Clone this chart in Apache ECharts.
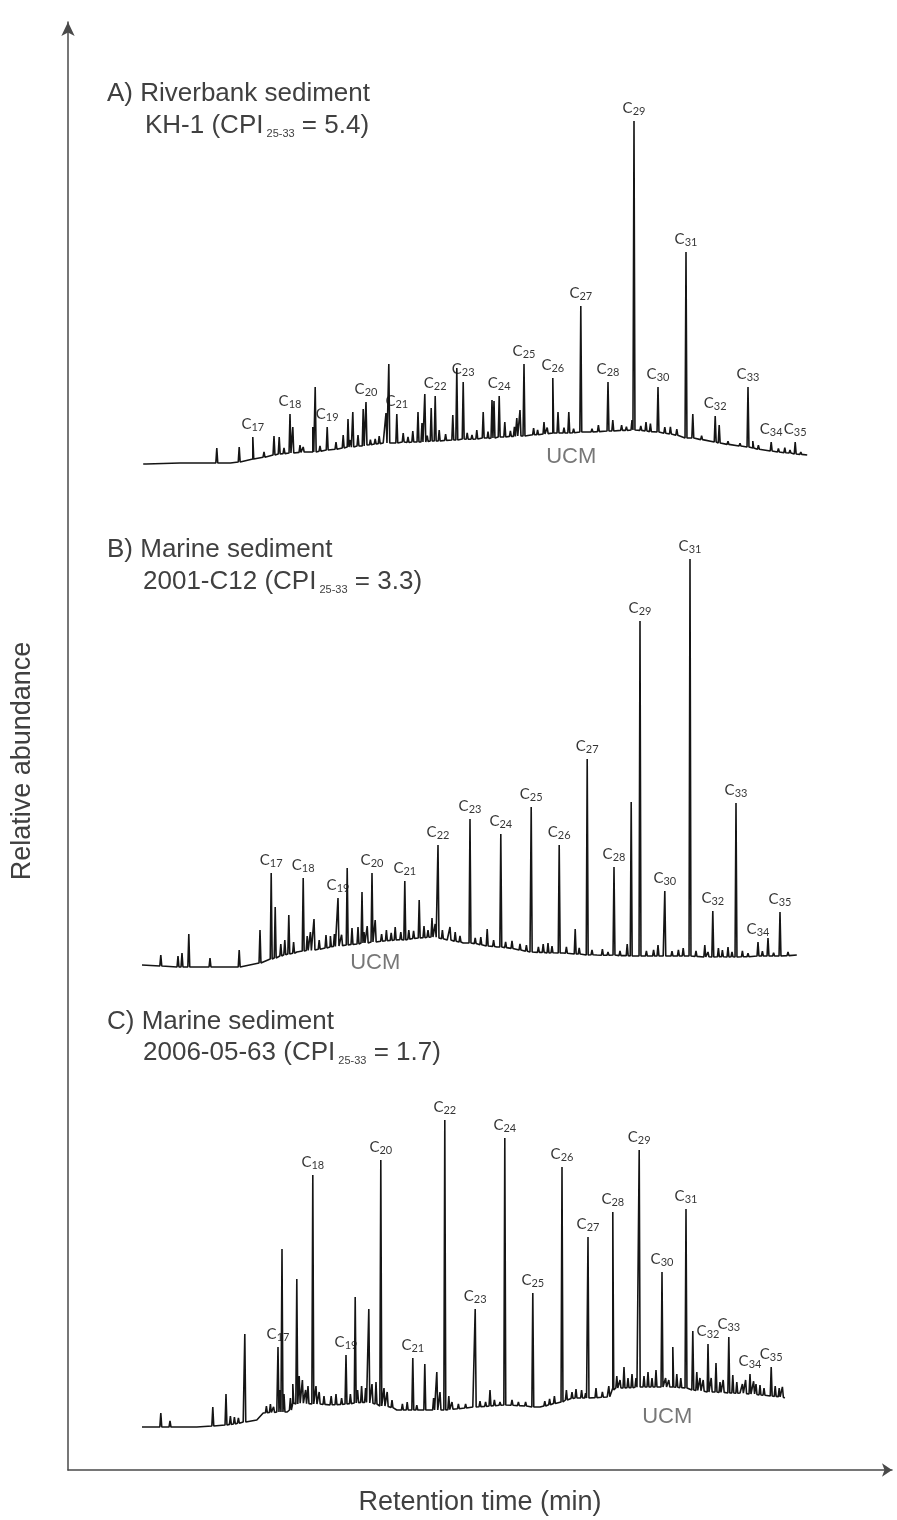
<!DOCTYPE html>
<html>
<head>
<meta charset="utf-8">
<title>n-alkane chromatograms</title>
<script src="https://cdn.jsdelivr.net/npm/echarts@6/dist/echarts.min.js"></script>
<style>
  html, body { margin: 0; padding: 0; background: #fff; }
  #chart { width: 897px; height: 1520px; }
</style>
</head>
<body>
<div id="chart"></div>
<script>
// retention time axis runs 0..100 (arbitrary units), abundance in arbitrary units per panel

// A) Riverbank sediment KH-1 : UCM hump points [time, abundance]
const ucmA = [
  [5.4, 1.5], [10.0, 1.75], [16.3, 1.75], [19.1, 2.75], [22.5, 4], [26.6, 4.5],
  [30.9, 5.75], [35.4, 6.75], [40, 7], [48.4, 8], [56.6, 9.25], [60.9, 9.5],
  [66.6, 10], [69.1, 9.5], [73.4, 8], [77.5, 6.75], [81.6, 5.5], [85.9, 4.25], [88.4, 3.75]
]
// resolved peaks [time, base, top, carbon number]
const peaksA = [
  [5.9, 1.5, 2.0], [10.0, 1.75, 2.25], [14.6, 1.75, 5.5], [17.4, 2.0, 5.75],
  [19.1, 2.75, 8.25, 17], [21.75, 3.75, 8.5], [22.4, 4, 8.25],
  [23.75, 4.25, 14, 18], [24.1, 4.25, 10.75], [25.4, 4.5, 5.75],
  [26.6, 4.5, 10.75], [26.9, 4.5, 20.75], [28.4, 5, 10.75, 19],
  [30.4, 5.5, 8.75], [31.0, 5.75, 12.75], [31.6, 5.75, 14.5], [32.25, 6, 8.75],
  [32.9, 6, 15.25], [33.25, 6.25, 17, 20], [34.4, 6.5, 7.75],
  [35.75, 6.75, 14.25], [36.1, 6.75, 26.5], [37.1, 6.75, 14, 21],
  [37.9, 7, 9.25], [39.1, 7, 9.75], [39.75, 7, 14.5], [40.25, 7, 11.75],
  [40.6, 7, 19], [41.4, 7.25, 15.5], [41.9, 7.25, 18.5, 22], [42.4, 7.25, 10],
  [44.1, 7.5, 13.75], [44.6, 7.5, 25.5], [45.4, 7.75, 22, 23],
  [47.1, 7.75, 10], [47.9, 8, 14.5], [49.0, 8, 17.5], [49.25, 8, 17.25],
  [49.9, 8.25, 18.5, 24], [50.6, 8.25, 12], [52.1, 8.5, 13], [52.5, 8.5, 15],
  [53.0, 8.5, 26.5, 25], [55.5, 9, 12], [56.6, 9.25, 23, 26],
  [57.25, 9.25, 14.5], [58.6, 9.25, 14.5], [60.1, 9.5, 41, 27],
  [63.5, 9.75, 22, 28], [64.1, 9.75, 12.5], [66.5, 10, 12.5],
  [66.75, 10, 87.25, 29], [68.25, 9.75, 12], [69.75, 9.5, 20.75, 30],
  [73.25, 8, 54.5, 31], [74.1, 8, 14], [76.9, 7, 13.5, 32], [77.4, 6.75, 11.25],
  [81.0, 5.75, 20.75, 33], [81.6, 5.5, 7.25], [83.9, 4.75, 7, 34],
  [86.25, 4.25, 5], [86.9, 4, 7, 35]
]
// baseline noise spikes [time, base, top]
const noiseA = [
  [20.5, 3.2, 4.5], [23.0, 4.1, 5.5], [25.0, 4.4, 6.2], [27.5, 4.7, 6.0], [29.5, 5.2, 7.0],
  [31.3, 5.7, 7.5], [33.8, 6.3, 7.6], [34.9, 6.6, 8.5], [38.5, 6.9, 8.3], [40.9, 7.1, 8.6],
  [43.2, 7.4, 9.0], [45.9, 7.7, 9.3], [46.5, 7.7, 8.8], [48.5, 7.9, 9.6], [51.3, 8.4, 9.8],
  [51.8, 8.4, 10.8], [54.2, 8.8, 10.5], [54.7, 8.8, 10.0], [55.9, 9.1, 10.6], [58.0, 9.25, 10.6],
  [59.2, 9.3, 10.3], [61.5, 9.5, 10.3], [62.3, 9.6, 11.2], [65.2, 9.9, 11.2], [65.8, 9.9, 10.8],
  [67.6, 9.9, 11.0], [68.8, 9.6, 11.6], [70.6, 9.2, 10.7], [71.3, 9.0, 10.8], [72.1, 8.7, 10.2],
  [75.2, 7.6, 8.6], [78.5, 6.4, 7.2], [80.0, 6.0, 6.7], [82.3, 5.2, 6.2], [84.8, 4.5, 5.4],
  [85.6, 4.3, 5.6], [87.6, 3.9, 4.5]
]

// B) Marine sediment 2001-C12
const ucmB = [
  [5.25, 1.25], [12.1, 0.75], [17.5, 0.75], [20.4, 2], [21.6, 3], [24.6, 4.5],
  [28.75, 5.75], [32.9, 6.75], [37.1, 7.5], [41.25, 8.25], [43.4, 7.5],
  [45.4, 6.75], [49.6, 5.75], [53.75, 4.5], [57.9, 4.25], [62.1, 3.75],
  [70.4, 3.5], [78.75, 3.25], [87.1, 3.75]
]
const peaksB = [
  [7.6, 1.0, 3.75], [9.75, 0.75, 3.5], [10.25, 0.75, 4.25], [11.1, 0.75, 9],
  [13.75, 0.75, 3], [17.4, 0.75, 5], [20.0, 1.75, 10],
  [21.4, 2.75, 24.25, 17], [21.9, 3, 15.75], [23.6, 4, 13.75],
  [25.4, 4.75, 23, 18], [26.75, 5, 12.75], [28.25, 5.5, 8.75],
  [29.75, 6, 18, 19], [30.9, 6.25, 25.5], [32.25, 6.5, 10.75], [32.75, 6.75, 19.5],
  [33.4, 6.75, 11], [34.0, 7, 24.25, 20], [34.4, 7, 12.5], [36.9, 7.5, 10.75],
  [38.1, 7.5, 22.25, 21], [39.9, 8, 17.5], [41.5, 8.25, 13],
  [42.25, 8, 31.25, 22], [43.75, 7.5, 10.75], [46.25, 6.75, 37.75, 23],
  [48.4, 6, 10.25], [50.1, 5.75, 34, 24], [53.9, 4.5, 40.75, 25],
  [56.0, 4.25, 6.75], [57.4, 4.25, 31.25, 26], [59.4, 4, 10.25],
  [60.9, 3.75, 52.75, 27], [64.25, 3.75, 25.75, 28], [66.4, 3.5, 42],
  [67.5, 3.5, 87.25, 29], [69.75, 3.5, 6.25], [70.6, 3.5, 19.75, 30],
  [73.75, 3.5, 102.75, 31], [75.6, 3.25, 6.25], [76.6, 3.25, 14.75, 32],
  [78.5, 3.25, 5.75], [79.5, 3.25, 41.75, 33], [82.25, 3.5, 7, 34],
  [83.5, 3.5, 8], [85.0, 3.5, 14.5, 35]
]
const noiseB = [
  [22.6, 3.5, 6.5], [23.1, 3.8, 7.5], [24.2, 4.2, 7.0], [25.9, 4.9, 8.5], [26.3, 4.9, 9.5],
  [27.4, 5.2, 7.5], [28.8, 5.8, 8.5], [29.3, 5.9, 9.0], [30.2, 6.1, 8.8], [31.5, 6.4, 10.5],
  [33.0, 6.75, 9.5], [35.2, 7.2, 9.0], [35.8, 7.3, 10.0], [36.4, 7.4, 9.3], [37.6, 7.6, 9.5],
  [38.6, 7.7, 10.0], [39.2, 7.9, 9.8], [40.5, 8.1, 11.0], [41.0, 8.2, 10.0], [41.9, 8.2, 11.5],
  [42.8, 7.8, 10.0], [44.4, 7.2, 9.5], [45.0, 7.0, 8.5], [46.9, 6.6, 8.0], [47.6, 6.3, 8.2],
  [49.2, 5.9, 7.5], [50.7, 5.6, 7.0], [51.5, 5.4, 7.3], [52.5, 5.0, 6.5], [53.3, 4.7, 6.2],
  [54.8, 4.4, 5.8], [55.4, 4.4, 6.5], [56.5, 4.3, 6.0], [58.3, 4.2, 5.8], [59.9, 4.0, 5.5],
  [61.5, 3.8, 5.0], [62.8, 3.7, 5.2], [63.5, 3.7, 4.5], [65.0, 3.6, 4.8], [65.9, 3.6, 6.5],
  [68.3, 3.5, 4.8], [69.2, 3.5, 5.0], [71.5, 3.5, 4.7], [72.3, 3.5, 5.0], [72.9, 3.5, 5.5],
  [74.5, 3.4, 4.8], [76.0, 3.3, 4.5], [77.3, 3.3, 5.5], [77.8, 3.3, 5.0], [79.0, 3.3, 4.5],
  [80.3, 3.3, 4.8], [81.0, 3.3, 4.2], [82.8, 3.5, 4.7], [84.2, 3.5, 4.3], [86.0, 3.6, 4.5]
]

// C) Marine sediment 2006-05-63
const ucmC = [
  [5.25, 0.75], [12.1, 0.75], [17.9, 2], [19.6, 2.5], [20.4, 4.25], [22.1, 4.5],
  [23.4, 4.5], [24.1, 6.75], [28.75, 6.25], [32.9, 7], [37.1, 5], [41.25, 5],
  [46.6, 5.75], [50.9, 6.25], [55, 5.75], [59.1, 8], [63.4, 8.25], [64.1, 10.5],
  [67.5, 10.75], [71.6, 10.75], [75.9, 9.5], [80, 9.25], [85.6, 8]
]
const peaksC = [
  [7.6, 0.75, 4.25], [8.75, 0.75, 2.25], [14.1, 1, 5.75], [15.75, 1.25, 9],
  [18.1, 2, 24], [22.25, 4.5, 20.75, 17], [22.75, 4.5, 45.25],
  [24.6, 6.5, 37.75], [26.6, 6.5, 63.75, 18], [30.75, 6.5, 18.75, 19],
  [31.9, 6.75, 33.25], [33.6, 6.75, 30.25], [35.1, 6, 67.5, 20],
  [39.1, 5, 18, 21], [40.6, 5, 16.5], [42.1, 5, 14.5], [43.1, 5, 77.5, 22],
  [46.9, 5.75, 30.25, 23], [48.75, 6, 10], [50.6, 6.25, 73, 24],
  [54.1, 5.75, 34.25, 25], [57.75, 7, 65.75, 26], [59.5, 8, 10.25],
  [61.0, 8, 48.25, 27], [64.1, 10, 54.5, 28], [65.5, 10.5, 15.75],
  [67.4, 10.75, 70, 29], [70.25, 10.75, 39.5, 30], [71.6, 10.75, 20.75],
  [73.25, 10.5, 55.25, 31], [74.1, 10, 24.75], [76.0, 9.5, 21.5, 32],
  [77.0, 9.5, 16.75], [78.6, 9.25, 23.25, 33], [79.1, 9.25, 13.75],
  [81.25, 9, 14, 34], [82.5, 8.75, 11.25], [83.9, 8.5, 15.75, 35]
]
const noiseC = [
  [16.3, 1.4, 3.5], [16.8, 1.5, 3.2], [17.3, 1.7, 3.0], [20.8, 4.3, 6], [21.3, 4.4, 6.5],
  [21.7, 4.4, 5.8], [22.5, 4.5, 10], [23.0, 4.5, 9], [23.8, 5, 8], [24.1, 6.75, 11.5],
  [24.9, 6.7, 13.5], [25.3, 6.7, 12.5], [25.7, 6.6, 10], [26.0, 6.6, 11], [27.0, 6.5, 11],
  [27.4, 6.5, 9.5], [28.0, 6.4, 8.5], [28.9, 6.3, 8.5], [29.5, 6.3, 9], [30.2, 6.4, 8.0],
  [31.3, 6.6, 9], [32.2, 6.8, 10], [32.7, 6.9, 11], [33.2, 6.9, 10.5], [34.0, 6.7, 11.5],
  [34.5, 6.5, 12], [35.5, 6.0, 10.5], [35.9, 5.9, 9.5], [36.5, 5.6, 7.5], [37.8, 5.0, 6.5],
  [38.4, 5.0, 7.0], [39.6, 5.0, 6.2], [41.7, 5.0, 8], [42.5, 5.0, 9.5], [43.6, 5.1, 8.5],
  [44.0, 5.2, 7.0], [44.8, 5.3, 6.5], [45.7, 5.5, 6.5], [47.5, 5.8, 7.2], [48.2, 5.9, 7.0],
  [49.3, 6.1, 7.5], [50.0, 6.2, 7.0], [51.5, 6.2, 7.5], [52.3, 6.1, 7.0], [53.2, 6.0, 7.0],
  [55.6, 6.0, 7.2], [56.2, 6.3, 7.8], [56.8, 6.6, 8.5], [58.3, 7.5, 10], [59.0, 7.9, 9.5],
  [60.2, 8.0, 10], [60.7, 8.0, 9.2], [62.0, 8.1, 10.5], [62.8, 8.2, 9.5], [63.6, 8.3, 11],
  [64.6, 10.5, 13.5], [65.0, 10.5, 12.5], [66.0, 10.6, 13], [66.5, 10.6, 14], [67.0, 10.7, 13.0],
  [68.0, 10.75, 13.5], [68.5, 10.75, 14.5], [69.0, 10.75, 13.0], [69.5, 10.75, 15], [70.7, 10.75, 13],
  [71.1, 10.75, 12.5], [72.1, 10.7, 14], [72.6, 10.6, 13], [74.6, 9.9, 14.5], [75.0, 9.8, 13],
  [75.4, 9.7, 12.5], [76.4, 9.5, 13], [77.5, 9.4, 12], [77.9, 9.4, 12.5], [79.6, 9.2, 12.0],
  [80.3, 9.2, 11.5], [80.7, 9.1, 12.5], [81.7, 9, 12.2], [82.0, 8.9, 11.5], [83.0, 8.7, 10.5],
  [84.4, 8.4, 11], [84.9, 8.3, 10.5], [85.3, 8.2, 10.8]
]

// merge hump points and spikes into one continuous trace
function buildTrace(ucm, peaks) {
  const parts = ucm.map(p => ({ x: p[0], pts: [[p[0], p[1]]] }))
  peaks.forEach(p => {
    parts.push({ x: p[0], pts: [[p[0] - 0.12, p[1]], [p[0], p[2]], [p[0] + 0.12, p[1]]] })
  })
  parts.sort((a, b) => a.x - b.x)
  return parts.flatMap(e => e.pts)
}

function peakLabels(peaks) {
  return peaks.filter(p => p[3]).map(p => [p[0], p[2], p[3]])
}

const chart = echarts.init(document.getElementById('chart'))

const textColor = '#404040'
const titleStyle = {
  fontFamily: 'Liberation Sans',
  fontSize: 26,
  fontWeight: 'normal',
  color: textColor,
  lineHeight: 30,
  rich: {
    m: { fontSize: 26, lineHeight: 30, verticalAlign: 'bottom', color: textColor, fontFamily: 'Liberation Sans' },
    s: { fontSize: 11, lineHeight: 20, verticalAlign: 'bottom', color: textColor, fontFamily: 'Liberation Sans' }
  }
}
const mkTitle = (text, left, top) => ({ text, left, top, padding: 0, textStyle: titleStyle })

// inner panels share the same time scale
const panels = [
  { top: 70, height: 400, max: 100 },
  { top: 530, height: 440, max: 110 },
  { top: 1030, height: 400, max: 100 }
]
const traces = [[ucmA, peaksA, noiseA], [ucmB, peaksB, noiseB], [ucmC, peaksC, noiseC]]
const ucmPos = [[58.9, 3.25], [34.4, 1.75], [70.9, 3.25]]

const grid = panels.map(p => ({ left: 100, width: 800, top: p.top, height: p.height, outerBoundsMode: 'none' }))
grid.push({ left: 68, right: 5, top: 22, bottom: 50, outerBoundsMode: 'none' })

const xAxis = panels.map((p, i) => ({ type: 'value', gridIndex: i, min: 0, max: 100, show: false }))
const yAxis = panels.map((p, i) => ({ type: 'value', gridIndex: i, min: 0, max: p.max, show: false }))

xAxis.push({
  type: 'value', gridIndex: 3, min: 0, max: 1,
  axisLine: { show: true, symbol: ['none', 'arrow'], symbolSize: [10, 10], lineStyle: { color: '#4a4a4a', width: 1.5 } },
  axisTick: { show: false }, axisLabel: { show: false }, splitLine: { show: false },
  name: 'Retention time (min)', nameLocation: 'middle', nameGap: 19,
  nameTextStyle: { fontSize: 27, color: textColor, fontFamily: 'Liberation Sans' }
})
yAxis.push({
  type: 'value', gridIndex: 3, min: 0, max: 1,
  axisLine: { show: true, symbol: ['none', 'arrow'], symbolSize: [10, 14], lineStyle: { color: '#4a4a4a', width: 1.5 } },
  axisTick: { show: false }, axisLabel: { show: false }, splitLine: { show: false },
  name: 'Relative abundance', nameLocation: 'middle', nameGap: 32,
  nameTextStyle: { fontSize: 27, color: textColor, fontFamily: 'Liberation Sans', padding: [0, 30, 0, 0] }
})

const series = []
traces.forEach((t, i) => {
  series.push({
    type: 'line', xAxisIndex: i, yAxisIndex: i,
    data: buildTrace(t[0], t[1].concat(t[2])),
    symbol: 'none', silent: true,
    lineStyle: { color: '#151515', width: 1.6 }
  })
  series.push({
    type: 'scatter', xAxisIndex: i, yAxisIndex: i,
    data: peakLabels(t[1]),
    symbolSize: 1, itemStyle: { color: 'transparent' }, silent: true,
    label: {
      show: true, position: 'top', distance: 4,
      formatter: p => '{c|C}{s|' + p.value[2] + '}',
      rich: {
        c: { fontSize: 15, lineHeight: 16, verticalAlign: 'top', color: '#000', fontFamily: 'Lato' },
        s: { fontSize: 11, lineHeight: 12, padding: [8, 0, 0, 0], verticalAlign: 'bottom', color: '#000', fontFamily: 'Lato' }
      }
    }
  })
  series.push({
    type: 'scatter', xAxisIndex: i, yAxisIndex: i,
    data: [ucmPos[i]],
    symbolSize: 1, itemStyle: { color: 'transparent' }, silent: true,
    label: { show: true, position: 'inside', formatter: 'UCM', fontSize: 22, color: '#555', fontFamily: 'Liberation Sans' }
  })
})

chart.setOption({
  animation: false,
  backgroundColor: '#fff',
  title: [
    mkTitle('A) Riverbank sediment', 107, 79),
    mkTitle('{m|KH-1 (CPI}{s| 25-33}{m| = 5.4)}', 145, 109),
    mkTitle('B) Marine sediment', 107, 535),
    mkTitle('{m|2001-C12 (CPI}{s| 25-33}{m| = 3.3)}', 143, 565),
    mkTitle('C) Marine sediment', 107, 1007),
    mkTitle('{m|2006-05-63 (CPI}{s| 25-33}{m| = 1.7)}', 143, 1036)
  ],
  grid, xAxis, yAxis, series
})
</script>
</body>
</html>
